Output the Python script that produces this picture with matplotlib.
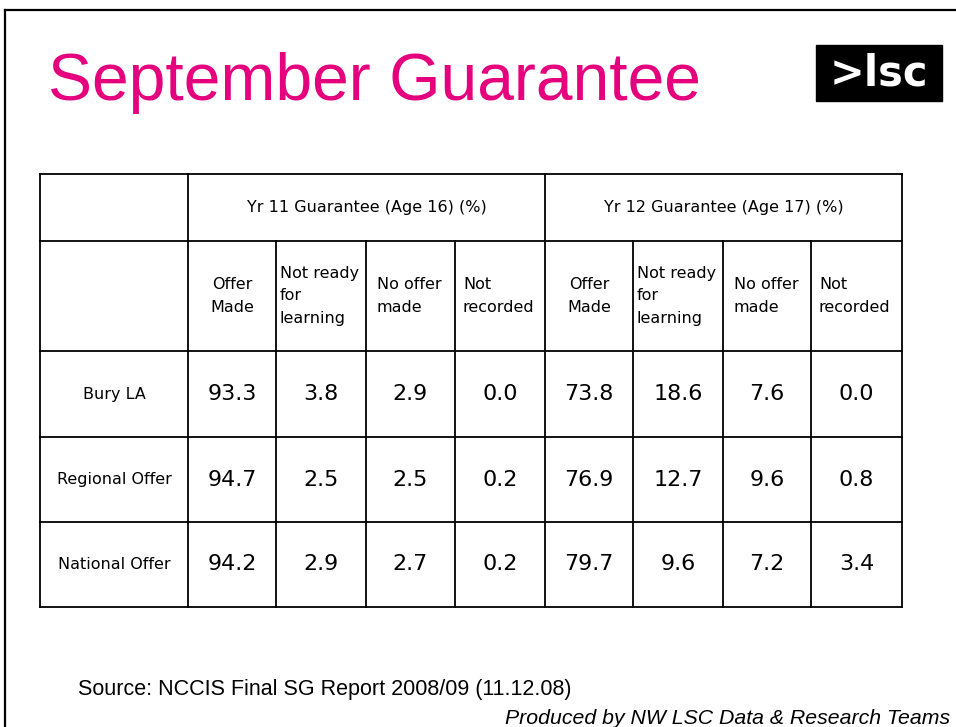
"""September Guarantee table slide, redrawn with matplotlib."""

import matplotlib
matplotlib.use("Agg")
import matplotlib.pyplot as plt
from matplotlib.patches import Rectangle

W, H = 956, 727
PINK = "#e5007e"

# ── Data ─────────────────────────────────────────────────────────────────────
groups = ["Yr 11 Guarantee (Age 16) (%)", "Yr 12 Guarantee (Age 17) (%)"]
sub_labels = ["Offer\nMade", "Not ready\nfor\nlearning", "No offer\nmade", "Not\nrecorded"]
areas = ["Bury LA", "Regional Offer", "National Offer"]
yr11 = [[93.3, 3.8, 2.9, 0.0],
        [94.7, 2.5, 2.5, 0.2],
        [94.2, 2.9, 2.7, 0.2]]
yr12 = [[73.8, 18.6, 7.6, 0.0],
        [76.9, 12.7, 9.6, 0.8],
        [79.7, 9.6, 7.2, 3.4]]

# ── Layout (pixels) ──────────────────────────────────────────────────────────
col_x = [40, 188, 276, 366, 455, 545, 633, 723, 811, 902]
row_y = [174, 241, 351, 437, 522, 607]
sub_align = ["center", "left", "left", "left"]
sub_pad = [0, 4, 11, 8]

fig = plt.figure(figsize=(W / 100, H / 100), dpi=100)
ax = fig.add_axes([0, 0, 1, 1])
ax.set_xlim(0, W); ax.set_ylim(H, 0)
ax.axis("off")

# slide frame
ax.plot([5, W], [10, 10], color="black", lw=1.6)
ax.plot([5, 5], [10, H], color="black", lw=1.6)

# title + logo
ax.text(48, 100, "September Guarantee", color=PINK, fontsize=47.5,
        family="Liberation Sans", va="baseline", ha="left")
ax.add_patch(Rectangle((816, 45), 126, 56, color="black"))
ax.text(879, 74, ">lsc", color="white", fontsize=30, fontweight="bold",
        family="DejaVu Sans", ha="center", va="center")

# ── Table grid ───────────────────────────────────────────────────────────────
lw = 1.3
for y in row_y:
    ax.plot([col_x[0], col_x[-1]], [y, y], color="black", lw=lw)
for i, x in enumerate(col_x):
    if i in (0, 1, 5, 9):
        ax.plot([x, x], [row_y[0], row_y[-1]], color="black", lw=lw)
    else:
        ax.plot([x, x], [row_y[1], row_y[-1]], color="black", lw=lw)

small = dict(family="DejaVu Sans", fontsize=11.5, color="black")
big = dict(family="DejaVu Sans", fontsize=16, color="black")

# group headers
for g, name in enumerate(groups):
    x0, x1 = col_x[1 + 4 * g], col_x[5 + 4 * g]
    ax.text((x0 + x1) / 2, (row_y[0] + row_y[1]) / 2, name,
            ha="center", va="center", **small)

# sub headers
yc = (row_y[1] + row_y[2]) / 2
for g in range(2):
    for j, lab in enumerate(sub_labels):
        k = 1 + 4 * g + j
        if sub_align[j] == "center":
            x = (col_x[k] + col_x[k + 1]) / 2
        else:
            x = col_x[k] + sub_pad[j]
        ax.text(x, yc, lab, ha=sub_align[j], va="center",
                linespacing=1.65, multialignment=sub_align[j], **small)

# body rows
for r, area in enumerate(areas):
    yc = (row_y[2 + r] + row_y[3 + r]) / 2
    ax.text((col_x[0] + col_x[1]) / 2, yc, area, ha="center", va="center", **small)
    for j, v in enumerate(yr11[r] + yr12[r]):
        xc = (col_x[1 + j] + col_x[2 + j]) / 2
        ax.text(xc, yc, f"{v:.1f}", ha="center", va="center", **big)

# footer
ax.text(78, 690, "Source: NCCIS Final SG Report 2008/09 (11.12.08)",
        family="Liberation Sans", fontsize=15.5, ha="left", va="center")
ax.text(950, 718, "Produced by NW LSC Data & Research Teams",
        family="Liberation Sans", fontsize=15.3, style="italic",
        ha="right", va="center")

fig.savefig("out.png", dpi=100, facecolor="white")
